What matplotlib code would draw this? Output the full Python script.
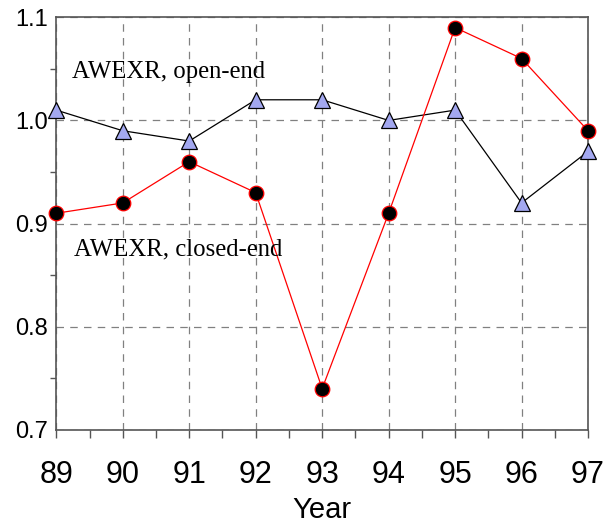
import numpy as np
import matplotlib.pyplot as plt
from matplotlib.ticker import MultipleLocator

# data
years = [89, 90, 91, 92, 93, 94, 95, 96, 97]
open_end = [1.01, 0.99, 0.98, 1.02, 1.02, 1.00, 1.01, 0.92, 0.97]
closed_end = [0.91, 0.92, 0.96, 0.93, 0.74, 0.91, 1.09, 1.06, 0.99]

fig = plt.figure(figsize=(6.05, 5.23), dpi=100)
ax = fig.add_axes([0.093, 0.178, 0.879, 0.789])

ax.plot(years, open_end, color='black', linewidth=0.9, marker='^', markersize=11,
        markerfacecolor='#a3a8f0', markeredgecolor='black', markeredgewidth=0.9,
        zorder=3, clip_on=False)
ax.plot(years, closed_end, color='red', linewidth=0.9, marker='o', markersize=10.5,
        markerfacecolor='black', markeredgecolor='red', markeredgewidth=0.9,
        zorder=3, clip_on=False)

ax.set_xlim(89, 97)
ax.set_ylim(0.7, 1.1)
ax.xaxis.set_major_locator(MultipleLocator(1))
ax.xaxis.set_minor_locator(MultipleLocator(0.5))
ax.yaxis.set_minor_locator(MultipleLocator(0.05))
ax.set_yticks([0.7, 0.8, 0.9, 1.0, 1.1])
ax.set_yticklabels(['0.7', '0.8', '0.9', '1.0', '1.1'])

ax.grid(True, which='major', color='#808080', linestyle=(0, (6, 5)), linewidth=0.9)
for s in ax.spines.values():
    s.set_color('#555555')
    s.set_linewidth(1.2)

ax.tick_params(axis='both', which='both', direction='out', color='#555555', width=1)
ax.tick_params(axis='x', which='major', length=6, labelsize=22, pad=16)
ax.tick_params(axis='x', which='minor', length=6)
ax.tick_params(axis='y', which='major', length=0, labelsize=17, pad=6)
ax.tick_params(axis='y', which='minor', length=4)
for lab in ax.get_xticklabels() + ax.get_yticklabels():
    lab.set_fontfamily('Liberation Sans')

ax.set_xlabel('Year', fontsize=21, family='Liberation Sans', labelpad=4)

ax.text(89.24, 1.0416, 'AWEXR, open-end', fontsize=17.8, family='Liberation Serif', va='baseline')
ax.text(89.26, 0.8692, 'AWEXR, closed-end', fontsize=17.8, family='Liberation Serif', va='baseline')

plt.savefig('out.png', dpi=100)
